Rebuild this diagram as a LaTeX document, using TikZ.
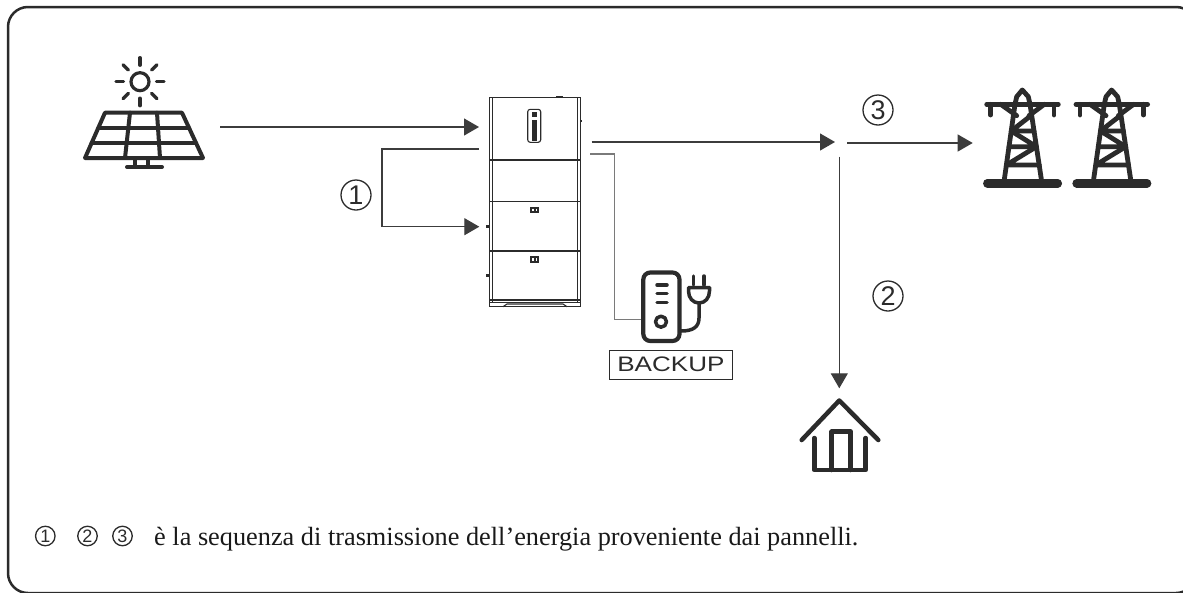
\documentclass[tikz,border=0pt]{standalone}
\usepackage{fontspec}
\setmainfont{Liberation Serif}
\newfontfamily\arialf{Liberation Sans}
\usetikzlibrary{arrows.meta,calc}

\definecolor{ink}{HTML}{2B2B2B}
\definecolor{wire}{HTML}{3C3C3C}
\definecolor{wirelight}{HTML}{7A7A7A}

\tikzset{
  icon/.style={draw=ink, line width=4pt, line cap=round, line join=round},
  thinline/.style={draw=ink, line width=1.1pt},
  flow/.style={draw=wire, line width=1.2pt, -{Triangle[length=15pt,width=17pt]}},
  tap/.style={draw=wirelight, line width=1.2pt},
  seq/.style={circle, draw=ink, line width=1.3pt, minimum size=30pt, inner sep=0pt,
    font=\arialf\fontsize{27}{27}\selectfont, text=ink},
  seqsmall/.style={circle, draw=ink, line width=1.3pt, minimum size=19.5pt, inner sep=0pt,
    font=\arialf\fontsize{18}{18}\selectfont, text=ink},
  pylonline/.style={icon, line width=4.8pt},
  pylon/.pic={
    % peak
    \draw[pylonline] (-7.3,15.3) -- (-5.6,7.7) -- (0,1) -- (6,7.7) -- (7.7,15.3);
    % crossarm and insulators
    \draw[pylonline] (-35.6,15.3) -- (36,15.3);
    \draw[pylonline] (-31.6,15.3) -- (-31.6,26);
    \draw[pylonline] (31.7,15.3) -- (31.7,26);
    % legs
    \draw[pylonline] (-7.3,15.3) -- (-18.3,92.7);
    \draw[pylonline] (7.7,15.3) -- (19.4,92.7);
    % bracing
    \draw[pylonline] (-21.6,15.3) -- (-5.6,26.7);
    \draw[pylonline] (22,15.3) -- (6.7,26.7);
    \draw[pylonline] (8.5,26.7) -- (-11.1,42) -- (11.7,42);
    \draw[pylonline] (-11.1,42) -- (14.1,57.7) -- (-13.3,57.7);
    \draw[pylonline] (14.1,57.7) -- (-15.9,76) -- (16.9,76);
    % base
    \draw[icon, line width=8.5pt] (-35,94.3) -- (35.5,94.3);
  },
}

\begin{document}
\begin{tikzpicture}[x=1pt, y=-1pt]
  \useasboundingbox (0,0) rectangle (1183,592);
  \clip (0,0) rectangle (1183,592);

  % frame
  \draw[draw=ink, line width=2.5pt, rounded corners=20pt] (8,7) rectangle (1196,593);

  % ---------- solar panel ----------
  \node[inner sep=0, minimum width=120pt, minimum height=112pt] (solar) at (144,112) {};
  \coordinate (sun) at (140,81.7);
  \draw[icon, line width=3.2pt] (sun) circle (9);
  \foreach \a in {0,45,...,315}
    \draw[icon, line width=3.4pt] ($(sun)+(\a:16.5)$) -- ($(sun)+(\a:24)$);
  \draw[icon] (105,112.7) -- (182,112.7) -- (203,158) -- (85,158) -- cycle;
  \draw[icon] (98.4,127.7) -- (189,127.7);
  \draw[icon] (91.6,143) -- (196,143);
  \draw[icon] (130,112.7) -- (125,158);
  \draw[icon] (157,112.7) -- (160,158);
  \draw[icon] (135,158) -- (135,166.5);
  \draw[icon] (148,158) -- (148,166.5);
  \draw[icon] (127,167) -- (162,167);

  % ---------- inverter with battery stack ----------
  \node[inner sep=0, minimum width=91.4pt, minimum height=209.4pt] (inv) at (535,202) {};
  \draw[thinline] (489.3,97.3) rectangle (580.7,306.7);
  \draw[thinline] (492.3,97.3) -- (492.3,302.7);
  \draw[thinline] (577.3,97.3) -- (577.3,302.7);
  \foreach \yy in {160,201.7,251,300,302.7}
    \draw[thinline] (489.3,\yy) -- (580.7,\yy);
  \draw[thinline] (503,306.7) -- (507,304) -- (563,304) -- (567,306.7);
  \fill[ink] (556,95.8) rectangle (563,97.3);
  % display
  \draw[thinline, rounded corners=2.5pt] (527.7,109.3) rectangle (540.7,142.3);
  \fill[ink] (531.8,111.8) rectangle (536.8,117);
  \fill[ink] (531.8,119.5) rectangle (536.8,141);
  % module badges
  \fill[ink] (530,206.5) rectangle (539,213);
  \fill[ink] (530,256.2) rectangle (539,262.7);
  \draw[white, line width=0.8pt] (532,208.5) -- (532,211) (533.5,208.5) -- (533.5,211) (536.5,208.5) -- (536.5,211);
  \draw[white, line width=0.8pt] (532,258.2) -- (532,260.7) (533.5,258.2) -- (533.5,260.7) (536.5,258.2) -- (536.5,260.7);
  % side terminals
  \fill[ink] (486.3,225.2) rectangle (488.8,228.2);
  \fill[ink] (486.3,273.5) rectangle (488.8,276.5);
  \fill[ink] (580.7,119.5) rectangle (582.3,122);

  % ---------- grid towers ----------
  \node[inner sep=0, minimum width=162pt, minimum height=100pt] (grid) at (1066,136) {};
  \pic at (1022.3,89) {pylon};
  \pic at (1111.6,89) {pylon};

  % ---------- house ----------
  \node[inner sep=0, minimum width=80pt, minimum height=72pt] (house) at (840,435) {};
  \draw[icon, line width=4.5pt] (801.7,440) -- (839.3,400.5) -- (878.3,440);
  \draw[icon, line width=4.5pt] (814.3,438) -- (814.3,470) -- (865.7,470) -- (865.7,438);
  \draw[icon, line width=4.5pt] (831.7,470) -- (831.7,431.7) -- (850.7,431.7) -- (850.7,470);

  % ---------- backup load ----------
  \node[inner sep=0, minimum width=70pt, minimum height=75pt] (load) at (675,306) {};
  \draw[icon, line width=4.2pt, rounded corners=7pt] (643.3,272.5) rectangle (679.5,341);
  \draw[icon, line width=3.5pt] (657,285) -- (667,285);
  \draw[icon, line width=3.5pt] (657,293.3) -- (667,293.3);
  \draw[icon, line width=3.5pt] (657,302.7) -- (667,302.7);
  \draw[icon, line width=3.5pt] (661,321.7) circle (5.5);
  \draw[icon, line width=3.5pt] (693.3,276) -- (693.3,285);
  \draw[icon, line width=3.5pt] (704,276) -- (704,285);
  \draw[icon, line width=3.5pt] (688.5,287.5) -- (709.5,287.5) -- (709.5,291)
    .. controls (709.5,298) and (705,303) .. (699,303)
    .. controls (693,303) and (688.5,298) .. (688.5,291) -- cycle;
  \draw[icon, line width=3.5pt] (699,303) -- (699,318) .. controls (699,327) and (693,331) .. (681,331);
  \node[draw=ink, line width=1pt, minimum width=123.7pt, minimum height=29pt, inner sep=0,
        font=\arialf\fontsize{21}{21}\selectfont, text=ink] (backup) at (670.9,364.5)
        {\scalebox{1.24}[1]{BACKUP}};

  % ---------- connection points ----------
  \coordinate (pvout) at (220,127);
  \coordinate (invpv) at (479,127);
  \coordinate (invtap) at (478.7,149);
  \coordinate (invbat) at (479.3,226.7);
  \coordinate (invac) at (591.7,142);
  \coordinate (invbk) at (590,154);
  \coordinate (meter) at (835,142);
  \coordinate (meterout) at (847,143);
  \coordinate (meterdown) at (839.3,156.7);
  \coordinate (gridin) at (972.7,143);
  \coordinate (housein) at (839.3,388.3);
  \coordinate (loadin) at (640.5,319.3);

  % ---------- energy flow ----------
  \draw[flow] (pvout) -- (invpv);
  \draw[flow] (invtap) -- (382,149) -- (382,226.7) -- (invbat);
  \draw[flow] (invac) -- (meter);
  \draw[flow] (meterout) -- (gridin);
  \draw[flow] (meterdown) -- (housein);
  \draw[tap] (invbk) -- (614.3,154) -- (614.3,319.3) -- (loadin);

  % sequence markers
  \node[seq] (n1) at (356,195) {1};
  \node[seq] (n2) at (888,296) {2};
  \node[seq] (n3) at (878,110) {3};

  % ---------- caption ----------
  \node[seqsmall] (c1) at (45.3,536) {1};
  \node[seqsmall] (c2) at (87.5,536) {2};
  \node[seqsmall] (c3) at (122.5,536) {3};
  \node[anchor=base west, inner sep=0, font=\fontsize{26.3}{26.3}\selectfont, text=black!90] (caption)
    at (154,545) {è la sequenza di trasmissione dell’energia proveniente dai pannelli.};
\end{tikzpicture}
\end{document}
